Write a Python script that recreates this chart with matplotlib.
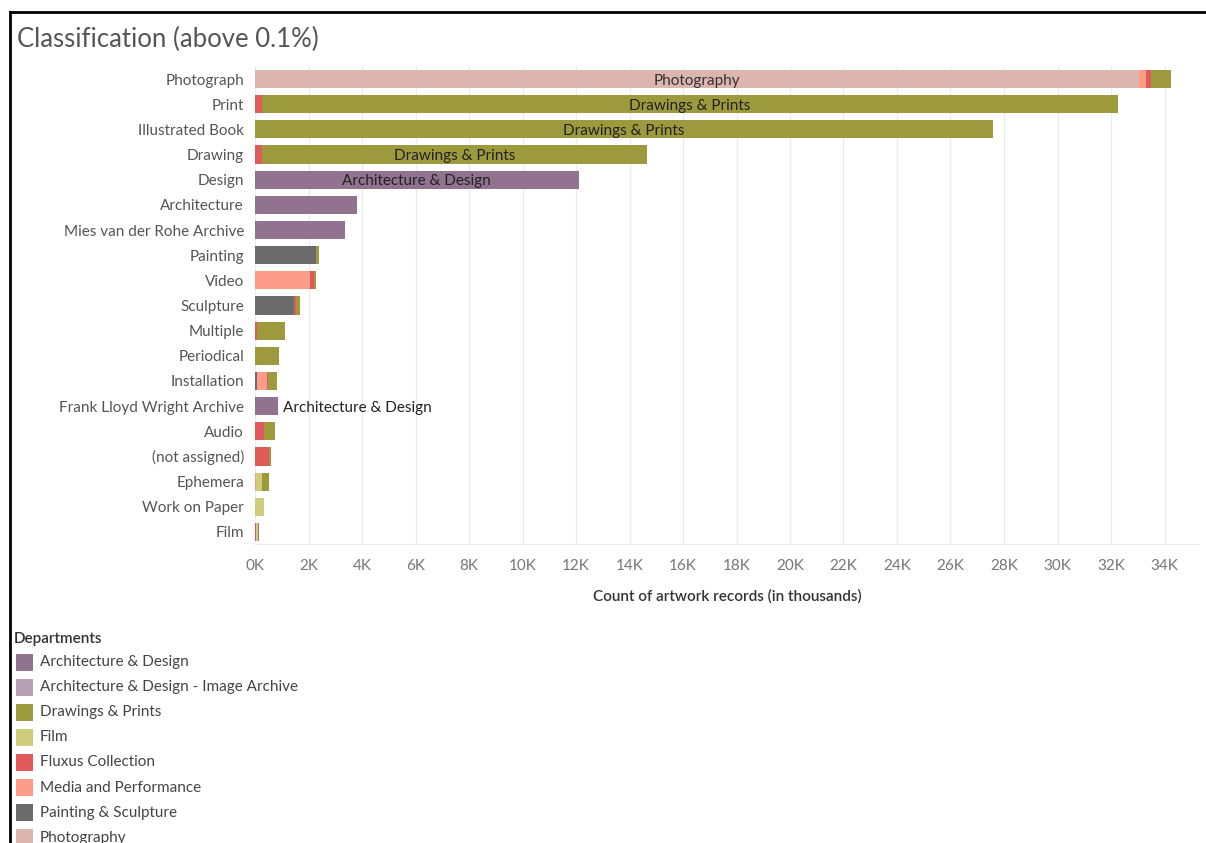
import matplotlib
matplotlib.use('Agg')
import matplotlib.pyplot as plt
import numpy as np
from matplotlib.lines import Line2D
from matplotlib.patches import Rectangle

plt.rcParams['font.family'] = ['Lato', 'DejaVu Sans']

# Datos (en miles)
clasificaciones = ['Photograph', 'Print', 'Illustrated Book', 'Drawing', 'Design',
                   'Architecture', 'Mies van der Rohe Archive', 'Painting', 'Video',
                   'Sculpture', 'Multiple', 'Periodical', 'Installation',
                   'Frank Lloyd Wright Archive', 'Audio', '(not assigned)', 'Ephemera',
                   'Work on Paper', 'Film']

photography      = [33.05, 0, 0, 0, 0, 0, 0, 0, 0, 0, 0, 0, 0, 0, 0, 0, 0, 0, 0]
painting_sculpt  = [0, 0, 0, 0, 0, 0, 0, 2.28, 0, 1.47, 0, 0, 0.07, 0, 0, 0, 0, 0, 0]
media_perf       = [0.26, 0, 0, 0, 0, 0, 0, 0, 2.07, 0, 0, 0, 0.37, 0, 0, 0, 0.04, 0, 0]
fluxus           = [0.2, 0.25, 0, 0.25, 0, 0, 0, 0, 0.15, 0.07, 0.07, 0, 0.03, 0, 0.32, 0.52, 0, 0, 0.05]
film             = [0, 0, 0, 0, 0, 0, 0, 0, 0, 0, 0, 0, 0, 0, 0, 0, 0.24, 0.32, 0.05]
drawings_prints  = [0.75, 32.0, 27.6, 14.4, 0, 0, 0, 0.1, 0.05, 0.15, 1.05, 0.9, 0.37, 0, 0.42, 0.06, 0.25, 0, 0]
arch_image       = [0] * 19
arch_design      = [0, 0, 0, 0, 12.1, 3.8, 3.36, 0, 0, 0, 0, 0, 0, 0.85, 0, 0, 0, 0, 0.06]

departamentos = ['Architecture & Design', 'Architecture & Design - Image Archive',
                 'Drawings & Prints', 'Film', 'Fluxus Collection',
                 'Media and Performance', 'Painting & Sculpture', 'Photography']
cores = {'Architecture & Design': '#917390',
         'Architecture & Design - Image Archive': '#baa0b6',
         'Drawings & Prints': '#9d9a3e',
         'Film': '#cfcd7b',
         'Fluxus Collection': '#e05a5c',
         'Media and Performance': '#fd9c89',
         'Painting & Sculpture': '#6b6b6b',
         'Photography': '#dbb5ae'}

# ordem de empilhamento
pilha = [('Photography', photography), ('Painting & Sculpture', painting_sculpt),
         ('Media and Performance', media_perf), ('Fluxus Collection', fluxus),
         ('Film', film), ('Drawings & Prints', drawings_prints),
         ('Architecture & Design - Image Archive', arch_image),
         ('Architecture & Design', arch_design)]

W, H = 1206, 843
fig = plt.figure(figsize=(W / 100, H / 100), dpi=100)
ax = fig.add_axes([255 / W, 1 - 545 / H, (1200 - 255) / W, (545 - 66) / H])

y = np.arange(len(clasificaciones))
base = np.zeros(len(clasificaciones))
for nome, vals in pilha:
    vals = np.array(vals, dtype=float)
    ax.barh(y, vals, left=base, height=0.72, color=cores[nome], edgecolor='none', zorder=2)
    base += vals

# rótulos nas barras
ax.text(photography[0] / 2, 0, 'Photography', ha='center', va='center_baseline', fontsize=11, color='#333333', zorder=3)
for i in [1, 2, 3]:
    ax.text(fluxus[i] + drawings_prints[i] / 2, i, 'Drawings & Prints', ha='center', va='center_baseline',
            fontsize=11, color='#222222', zorder=3)
ax.text(arch_design[4] / 2, 4, 'Architecture & Design', ha='center', va='center_baseline', fontsize=11, color='#222222', zorder=3)
ax.text(arch_design[13] + 0.2, 13, 'Architecture & Design', ha='left', va='center_baseline', fontsize=11, color='#222222', zorder=3)

ax.set_xlim(0, (1200 - 255) / 26.75)
ax.set_ylim(len(clasificaciones) - 0.48, -0.52)
ax.set_yticks(y)
ax.set_yticklabels(clasificaciones, fontsize=11, color='#555555')
xt = np.arange(0, 35, 2)
ax.set_xticks(xt)
ax.set_xticklabels([f'{v}K' for v in xt], fontsize=11, color='#777777')
ax.get_xticklabels()[0].set_x(0.35)
ax.tick_params(length=0, pad=8)
ax.tick_params(axis='x', pad=10)
ax.grid(axis='x', color='#ececec', linewidth=1, zorder=0)
for s in ax.spines.values():
    s.set_visible(False)
ax.axhline(len(clasificaciones) - 0.48, color='#e6e6e6', linewidth=1.2)
ax.set_xlabel('Count of artwork records (in thousands)', fontsize=11, color='#333333',
              fontweight='semibold', labelpad=12)

# título
fig.text(17 / W, 1 - 39 / H, 'Classification (above 0.1%)', fontsize=18.5, color='#555555',
         va='center', ha='left')

# legenda
fig.text(14 / W, 1 - 639 / H, 'Departments', fontsize=11, fontweight='semibold', color='#333333',
         va='center', ha='left')
for k, nome in enumerate(departamentos):
    yc = 662 + k * 25.1
    fig.add_artist(Rectangle((16 / W, 1 - (yc + 8.5) / H), 17 / W, 17 / H,
                             transform=fig.transFigure, facecolor=cores[nome], edgecolor='none'))
    fig.text(40 / W, 1 - yc / H, nome, fontsize=11, color='#444444', va='center', ha='left')

# moldura
fig.add_artist(Line2D([10 / W, 1], [1 - 12 / H, 1 - 12 / H], transform=fig.transFigure, color='black', linewidth=2))
fig.add_artist(Line2D([10 / W, 10 / W], [0, 1 - 12 / H], transform=fig.transFigure, color='black', linewidth=2))

fig.savefig('out.png', dpi=100)
